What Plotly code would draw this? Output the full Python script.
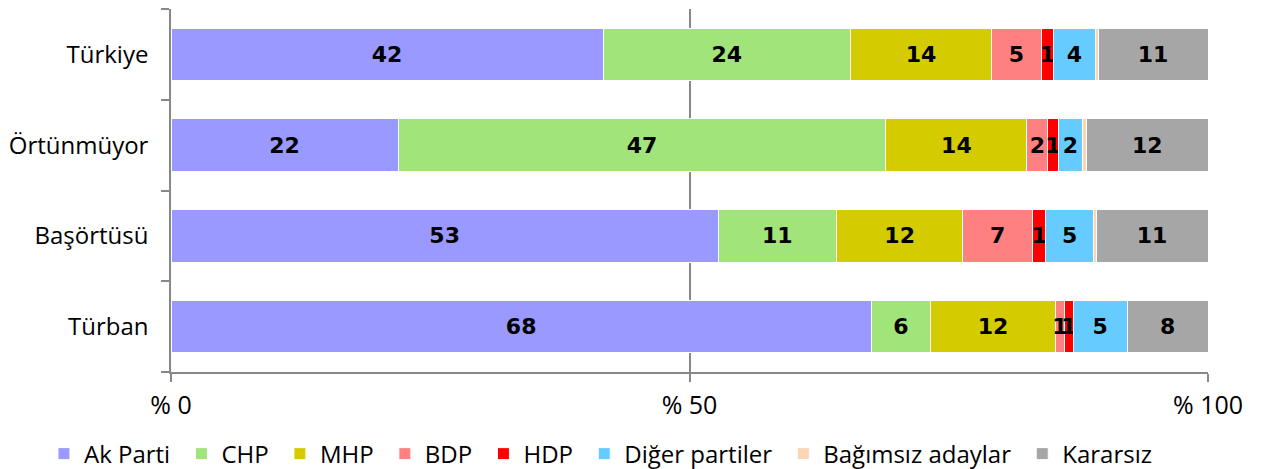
import plotly.graph_objects as go

categories = ["Türkiye", "Örtünmüyor", "Başörtüsü", "Türban"]
parties = ["Ak Parti", "CHP", "MHP", "BDP", "HDP", "Diğer partiler", "Bağımsız adaylar", "Kararsız"]
colors = ["#9999FF", "#A1E479", "#D4CC00", "#FF8080", "#FF0000", "#66CCFF", "#FCD5B5", "#A6A6A6"]

ak_parti = [41.7, 21.9, 52.8, 67.6]
chp = [23.9, 47.0, 11.4, 5.7]
mhp = [13.6, 13.6, 12.2, 12.1]
bdp = [4.8, 2.0, 6.7, 0.8]
hdp = [1.2, 1.0, 1.3, 0.9]
diger = [4.0, 2.4, 4.6, 5.2]
bagimsiz = [0.3, 0.35, 0.25, 0.0]
kararsiz = [10.6, 11.7, 10.8, 7.8]

series = [ak_parti, chp, mhp, bdp, hdp, diger, bagimsiz, kararsiz]
show_labels = [True, True, True, True, True, True, False, True]
tick_vals = [0, 50, 100]
tick_text = ["% 0", "% 50", "% 100"]

fig = go.Figure()
for name, vals, col, lab in zip(parties, series, colors, show_labels):
    fig.add_trace(go.Bar(
        y=categories, x=vals, name=name + "\u00a0", orientation="h",
        marker=dict(color=col, line=dict(color="#FFFFFF", width=1)),
        text=[f"{v:.0f}" for v in vals] if lab else None,
        textposition="inside", insidetextanchor="middle",
        constraintext="none",
        textfont=dict(family="DejaVu Sans", size=22, color="black", weight="bold"),
        hoverinfo="x+name",
    ))

# page body has an 8px margin: figure offset accordingly
fig.update_layout(
    barmode="stack", barnorm="percent", bargap=0.42,
    width=1253, height=472,
    margin=dict(l=163, r=53, t=1, b=108),
    plot_bgcolor="white", paper_bgcolor="white",
    font=dict(family="Open Sans", color="black"),
    legend=dict(orientation="h", xref="paper", yref="paper",
                x=-0.1225, xanchor="left", y=-0.226, yanchor="middle",
                font=dict(size=24, family="Open Sans"), traceorder="normal",
                itemwidth=30),
    xaxis=dict(range=[0, 100], tickvals=tick_vals, ticktext=tick_text,
               showgrid=True, gridcolor="#888888", gridwidth=1.5,
               zeroline=False, showline=True, linecolor="#888888", linewidth=1.5,
               ticks="outside", ticklen=8, tickcolor="#888888", tickwidth=1.5,
               ticklabelstandoff=2, automargin=False,
               tickfont=dict(size=25, family="Open Sans"), fixedrange=True),
    yaxis=dict(categoryorder="array", categoryarray=categories[::-1],
               showline=True, linecolor="#888888", linewidth=1.5,
               ticks="outside", ticklen=8, tickcolor="#888888", tickwidth=1.5,
               tickson="boundaries", showgrid=False, ticklabelstandoff=16,
               automargin=False,
               tickfont=dict(size=24, family="Open Sans"), fixedrange=True),
)

fig.write_html("out.html")
